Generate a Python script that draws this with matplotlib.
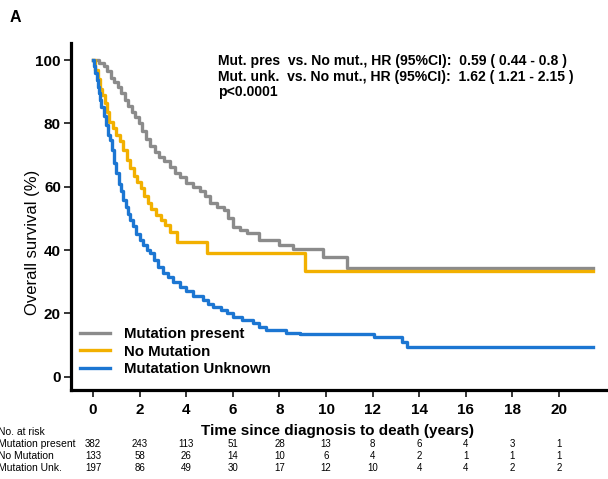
import matplotlib
matplotlib.use('Agg')
matplotlib.rc('font', family='Liberation Sans')
import numpy as np
import matplotlib.pyplot as plt
from matplotlib import transforms as mtrans

# Kaplan-Meier curves (years, % surviving)
t_pres = [0, 0.25, 0.45, 0.6, 0.75, 0.9, 1.05, 1.2, 1.35, 1.5, 1.65, 1.8, 1.95, 2.1, 2.25,
          2.45, 2.65, 2.85, 3.05, 3.3, 3.5, 3.75, 4.0, 4.3, 4.6, 4.8, 5.0, 5.3, 5.6, 5.8,
          6.0, 6.3, 6.6, 7.1, 8.0, 8.6, 9.87, 10.88, 21.45]
s_pres = [100, 99, 98, 96.5, 94.5, 93, 91.5, 89.5, 87.5, 85.5, 83.5, 82, 80, 77.5, 75,
          73, 71, 69.5, 68, 66.3, 64.5, 63, 61.1, 60, 58.5, 57, 54.8, 53.5, 52.5, 50,
          47.4, 46.3, 45.3, 43.2, 41.5, 40.3, 37.9, 34.2, 34.2]

t_nomut = [0, 0.1, 0.2, 0.3, 0.4, 0.5, 0.6, 0.7, 0.85, 1.0, 1.15, 1.3, 1.45, 1.6, 1.75,
           1.9, 2.05, 2.2, 2.35, 2.5, 2.7, 2.9, 3.1, 3.3, 3.6, 4.87, 9.09, 21.45]
s_nomut = [100, 97, 94, 91, 89, 86.5, 83.5, 80.5, 78.5, 76.5, 74.5, 71.5, 68.5, 66, 63.5,
           61.5, 59.5, 57, 55, 53, 51, 49.5, 48, 45.8, 42.6, 39.0, 33.5, 33.5]

t_unk = [0, 0.05, 0.1, 0.15, 0.2, 0.25, 0.3, 0.36, 0.45, 0.55, 0.65, 0.72, 0.8, 0.9, 1.0,
         1.1, 1.2, 1.29, 1.4, 1.5, 1.58, 1.7, 1.85, 2.0, 2.15, 2.3, 2.43, 2.6, 2.8, 3.0,
         3.2, 3.45, 3.72, 4.0, 4.3, 4.72, 4.95, 5.15, 5.5, 5.75, 6.0, 6.4, 6.87, 7.1, 7.44,
         8.3, 8.9, 12.05, 13.24, 13.46, 21.45]
s_unk = [100, 98, 96, 93.7, 91.5, 89.5, 87.5, 85.3, 82.5, 79.5, 76.5, 74.7, 71.5, 67.5, 64.2,
         61, 58.5, 55.8, 53.5, 51.5, 49.5, 47.5, 45, 43.2, 41.5, 40, 39, 37, 34.5, 32.6,
         31.5, 30, 28.4, 27, 25.5, 24.2, 23, 22.1, 21, 20, 18.9, 17.8, 16.9, 15.8, 14.7,
         13.7, 13.4, 12.4, 11.05, 9.5, 9.5]

risk_times = [0, 2, 4, 6, 8, 10, 12, 14, 16, 18, 20]
risk_labels = ['Mutation present', 'No Mutation', 'Mutation Unk.']
risk_pres = [382, 243, 113, 51, 28, 13, 8, 6, 4, 3, 1]
risk_nomut = [133, 58, 26, 14, 10, 6, 4, 2, 1, 1, 1]
risk_unk = [197, 86, 49, 30, 17, 12, 10, 4, 4, 2, 2]

c_gray = '#8b8b8b'
c_yel = '#f2b000'
c_blue = '#1c76d2'

fig = plt.figure(figsize=(6.08, 4.79), dpi=100)
ax = fig.add_axes([0.1163, 0.1858, 0.8837, 0.7244])
ax.plot(t_pres, s_pres, drawstyle='steps-post', color=c_gray, lw=2.4, label='Mutation present')
ax.plot(t_nomut, s_nomut, drawstyle='steps-post', color=c_yel, lw=2.4, label='No Mutation')
ax.plot(t_unk, s_unk, drawstyle='steps-post', color=c_blue, lw=2.4, label='Mutatation Unknown')

ax.set_xlim(-0.96, 22.1)
ax.set_ylim(-4.2, 105.4)
ax.set_xticks(range(0, 21, 2))
ax.set_yticks(range(0, 101, 20))
for s in ['top', 'right']:
    ax.spines[s].set_visible(False)
for s in ['left', 'bottom']:
    ax.spines[s].set_linewidth(2.3)
ax.tick_params(length=5, width=1.1, labelsize=11, pad=2)
ax.tick_params(axis='x', pad=4)
for lab in ax.get_xticklabels() + ax.get_yticklabels():
    lab.set_fontweight('bold')

leg = fig.legend(*ax.get_legend_handles_labels(), loc='center left',
                 bbox_to_anchor=(80 / 608, 1 - 351.5 / 479), frameon=False,
                 borderpad=0, borderaxespad=0, handlelength=2.0, handletextpad=0.9,
                 labelspacing=0.25, prop={'weight': 'bold', 'size': 10.8})

ax.text(0.274, 0.967, 'Mut. pres  vs. No mut., HR (95%CI):  0.59 ( 0.44 - 0.8 )\n'
        'Mut. unk.  vs. No mut., HR (95%CI):  1.62 ( 1.21 - 2.15 )\np<0.0001',
        transform=ax.transAxes, fontsize=10.1, fontweight='bold', va='top', ha='left',
        linespacing=1.12)

fig.text(15 / 608, 1 - 18 / 479, 'A', fontsize=11.5, fontweight='bold', ha='center', va='center')
fig.text(33 / 608, 1 - 242 / 479, 'Overall survival (%)', rotation=90, fontsize=12,
         ha='center', va='center')

tr = mtrans.blended_transform_factory(ax.transData, fig.transFigure)
ax.text(10.5, 1 - 431 / 479, 'Time since diagnosis to death (years)', transform=tr,
        fontsize=11, fontweight='bold', ha='center', va='center')

fig.text(-0.004, 1 - 432 / 479, 'No. at risk', fontsize=7.5, ha='left', va='center')
rows_y = [444, 456, 468]
for lab, vals, yy in zip(risk_labels, [risk_pres, risk_nomut, risk_unk], rows_y):
    fig.text(-0.004, 1 - yy / 479, lab, fontsize=7.5, ha='left', va='center')
    for tt, v in zip(risk_times, vals):
        ax.text(tt, 1 - yy / 479, str(v), transform=tr, fontsize=7,
                ha='center', va='center')

fig.savefig('out.png', dpi=100)
